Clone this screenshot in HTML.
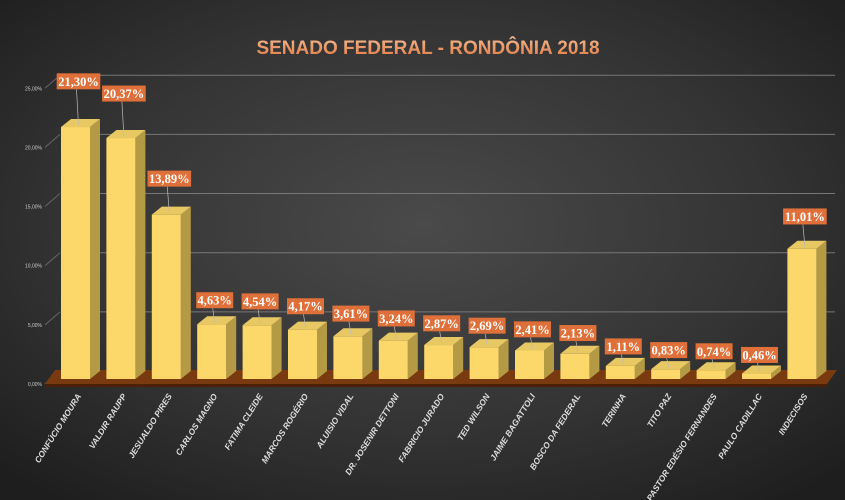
<!DOCTYPE html>
<html><head><meta charset="utf-8">
<style>
html,body{margin:0;padding:0;width:845px;height:500px;overflow:hidden;background:#2a2a2a}
svg{display:block}
</style></head>
<body>
<svg id="chart" width="845" height="500" viewBox="0 0 845 500" xmlns="http://www.w3.org/2000/svg">
<defs>
<radialGradient id="bg" cx="0.5" cy="0.45" r="0.7">
<stop offset="0" stop-color="#4a4a4a"/><stop offset="0.6" stop-color="#333"/><stop offset="1" stop-color="#1e1e1e"/>
</radialGradient>
<linearGradient id="title" x1="0" y1="0" x2="0" y2="1">
<stop offset="0" stop-color="#f4b890"/><stop offset="1" stop-color="#e07840"/>
</linearGradient>
</defs>
<rect width="845" height="500" fill="url(#bg)"/>
<text x="428" y="54" text-anchor="middle" font-family="Liberation Sans, sans-serif" font-weight="bold" font-size="19" fill="url(#title)">SENADO FEDERAL - RONDÔNIA 2018</text>
<g id="grid"></g>
<polygon points="45,384 827,384 837,370 55,370" fill="#7a3a10"/>
<polygon points="45,384 827,384 827,387 45,387" fill="#4a2008"/>
<g id="bars"></g>
<g id="xlabels"></g>
</svg>
<script>
const categories=["CONFÚCIO MOURA","VALDIR RAUPP","JESUALDO PIRES","CARLOS MAGNO","FATIMA CLEIDE","MARCOS ROGÉRIO","ALUISIO VIDAL","DR. JOSENIR DETTONI","FABRICIO JURADO","TED WILSON","JAIME BAGATTOLI","BOSCO DA FEDERAL","TERINHA","TITO PAZ","PASTOR EDÉSIO FERNANDES","PAULO CADILLAC","INDECISOS"];
const values=[21.30,20.37,13.89,4.63,4.54,4.17,3.61,3.24,2.87,2.69,2.41,2.13,1.11,0.83,0.74,0.46,11.01];
const valueLabels=["21,30%","20,37%","13,89%","4,63%","4,54%","4,17%","3,61%","3,24%","2,87%","2,69%","2,41%","2,13%","1,11%","0,83%","0,74%","0,46%","11,01%"];
const ticks=[0,5,10,15,20,25];
const tickLabels=["0,00%","5,00%","10,00%","15,00%","20,00%","25,00%"];

const NS="http://www.w3.org/2000/svg";
const y=v=>379-v*11.83;
const x=i=>61+i*45.4;
const BW=29,DX=10,DY=8;
function mk(t,a,p){const e=document.createElementNS(NS,t);for(const k in a)e.setAttribute(k,a[k]);p.appendChild(e);return e;}
const grid=document.getElementById('grid'),bars=document.getElementById('bars'),xl=document.getElementById('xlabels');
ticks.forEach((t,i)=>{
  const gy=y(t)-8;
  if(t>0){const l=mk('line',{x1:70,x2:835,y1:gy,y2:gy,stroke:'#777','stroke-width':1},grid);
  
  }
  const d=mk('line',{x1:45,y1:y(t)+5,x2:60,y2:gy,stroke:'#666','stroke-width':1},grid);
  
  
  const tx=mk('text',{x:42,y:y(t)+7,'text-anchor':'end','font-size':5,fill:'#ccc','font-family':'Liberation Sans, sans-serif'},grid);
  tx.textContent=tickLabels[i];
  
  
});
values.forEach((v,i)=>{
  const x0=x(i),top=y(v),g=mk('g',{},bars);
  
  
  mk('polygon',{points:`${x0+BW},379 ${x0+BW+DX},${379-DY} ${x0+BW+DX},${top-DY} ${x0+BW},${top}`,fill:'#b59a45'},g);
  mk('polygon',{points:`${x0},${top} ${x0+DX},${top-DY} ${x0+BW+DX},${top-DY} ${x0+BW},${top}`,fill:'#e8c862'},g);
  mk('rect',{x:x0,y:top,width:BW,height:379-top,fill:'#fcd86a'},g);
  const gap=10+v*1.3,lw=valueLabels[i].length*6.6+4,ly=top-gap-16,lx=x0+BW/2-lw/2+3;
  mk('line',{x1:x0+BW/2+3,y1:top-2,x2:x0+BW/2+1,y2:ly+16,stroke:'#bbb','stroke-width':0.7},g);
  const r=mk('rect',{x:lx,y:ly,width:lw,height:16,fill:'#e0703a'},bars);
  
  
  const t=mk('text',{x:lx+lw/2,y:ly+12.5,'text-anchor':'middle','font-size':12.5,'font-weight':'bold',fill:'#fff','font-family':'Liberation Serif, serif'},bars);
  t.textContent=valueLabels[i];
  
  
  const cx=x0+BW/2+6;
  const c=mk('text',{x:cx,y:396,'text-anchor':'end','font-size':8.5,'font-weight':'bold','font-style':'italic',fill:'#ddd','font-family':'Liberation Sans, sans-serif',transform:`rotate(-58 ${cx} 396)`},xl);
  c.textContent=categories[i];
  
  
});
</script>
</body></html>
